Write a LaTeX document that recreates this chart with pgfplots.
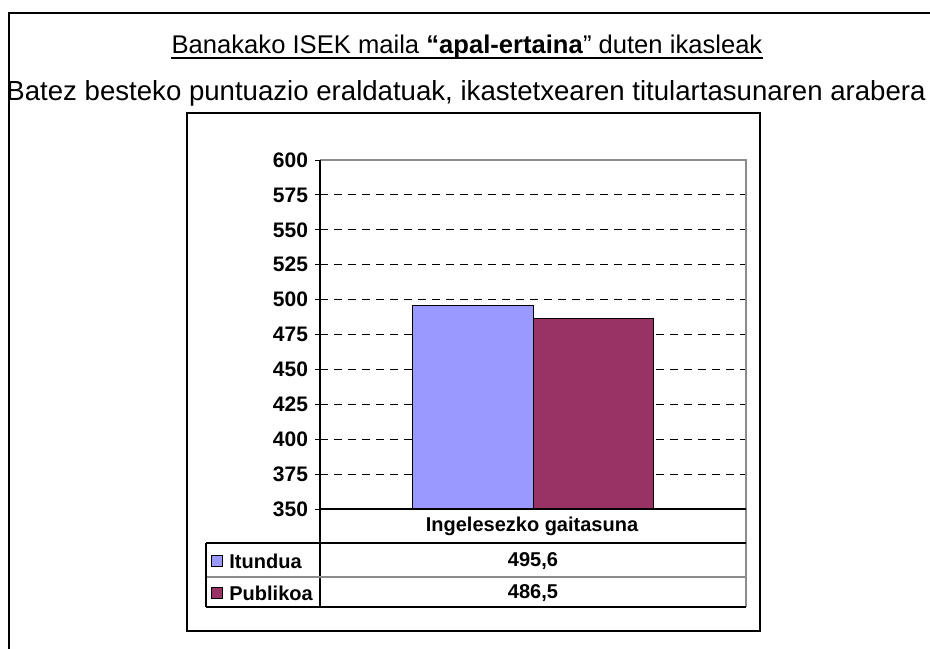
\documentclass[border=0pt]{standalone}
\usepackage{fontspec}
\setmainfont{Liberation Sans}
\usepackage{pgfplots}
\pgfplotsset{compat=1.18}
\definecolor{itun}{HTML}{9999FF}
\definecolor{publ}{HTML}{993366}
\definecolor{grayline}{HTML}{8C8C8C}

\begin{document}
\begin{tikzpicture}
\path[use as bounding box] (0,0) rectangle (465pt,-324pt);

\begin{axis}[
  at={(160pt,-254.5pt)}, anchor=south west,
  scale only axis, width=213pt, height=174.5pt,
  xmin=-0.5, xmax=0.5, ymin=350, ymax=600,
  ytick={375,400,...,575},
  extra y ticks={350,600},
  extra y tick style={grid=none},
  ymajorgrids,
  major grid style={black, line width=0.5pt, dash pattern=on 4pt off 3pt},
  xtick=\empty,
  axis line style={draw=none},
  tick align=outside, major tick length=2.5pt,
  tick style={black, line width=0.5pt},
  ytick pos=left,
  /pgf/number format/assume math mode=true,
  yticklabel style={font=\bfseries\fontsize{10.5}{12}\selectfont},
  ybar, bar width=0.284, bar shift=0pt,
]
\addplot[fill=itun, draw=black, line width=0.5pt] coordinates {(-0.142,495.6)};
\addplot[fill=publ, draw=black, line width=0.5pt] coordinates {(0.142,486.5)};
\end{axis}

\begin{scope}[x=0.5pt,y=-0.5pt]
% outer frame (right and bottom sides fall outside the picture)
\draw[line width=1pt] (9,660) -- (9,13) -- (930,13);
% chart frame
\draw[line width=0.6pt] (187,113) rectangle (760,631);
% titles
\node[anchor=base, inner sep=0pt, font=\fontsize{12.8}{15}\selectfont] (title) at (467,53)
  {Banakako ISEK maila \textbf{“apal-ertaina}” duten ikasleak};
\draw[line width=0.9pt] (title.west |- 0,58) -- (title.east |- 0,58);
\node[anchor=base, inner sep=0pt, font=\fontsize{13.8}{16}\selectfont] at (466,100)
  {Batez besteko puntuazio eraldatuak, ikastetxearen titulartasunaren arabera};
% plot area frame
\draw[grayline, line width=0.6pt] (320,160) -- (746,160) -- (746,607);
\draw[black, line width=0.6pt] (320,160) -- (320,607);
\draw[black, line width=0.6pt] (320,509) -- (746,509);
% data table
\draw[black, line width=0.6pt] (206,543) -- (746,543);
\draw[grayline, line width=0.6pt] (206,577) -- (746,577);
\draw[black, line width=0.6pt] (206,607) -- (746,607);
\draw[black, line width=0.6pt] (206,543) -- (206,607);
\node[font=\bfseries\fontsize{10}{12}\selectfont] at (532,526) {Ingelesezko gaitasuna};
\draw[black, fill=itun, line width=0.5pt] (211,555) rectangle (222,566);
\draw[black, fill=publ, line width=0.5pt] (211,587) rectangle (222,598);
\node[anchor=west, inner sep=0pt, font=\bfseries\fontsize{10}{12}\selectfont] at (229,561) {Itundua};
\node[anchor=west, inner sep=0pt, font=\bfseries\fontsize{10}{12}\selectfont] at (229,593) {Publikoa};
\node[font=\bfseries\fontsize{10}{12}\selectfont] at (533,561) {495,6};
\node[font=\bfseries\fontsize{10}{12}\selectfont] at (533,593) {486,5};
\end{scope}
\end{tikzpicture}
\end{document}
